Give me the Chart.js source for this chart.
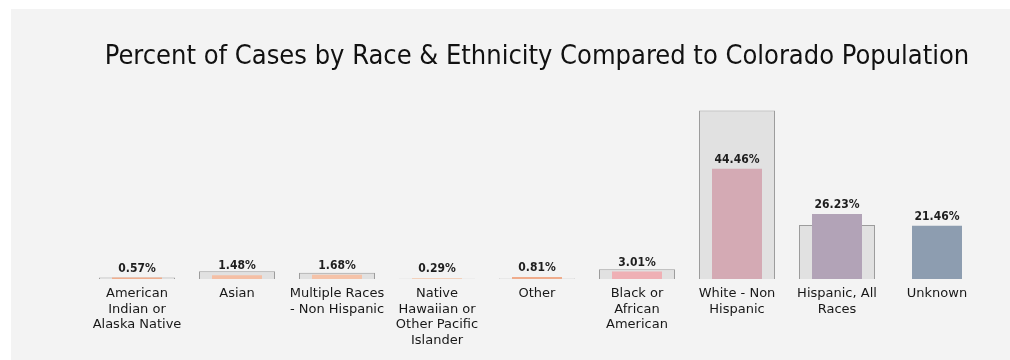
<!DOCTYPE html>
<html>
<head>
<meta charset="utf-8">
<script src="https://cdn.jsdelivr.net/npm/chart.js@4.4.1/dist/chart.umd.min.js"></script>
<style>
  html, body { margin: 0; padding: 0; background: #ffffff; }
  body { width: 1010px; height: 360px; position: relative; overflow: hidden; }
  #panel { position: absolute; left: 11px; top: 9px; width: 999px; height: 351px; background: #f3f3f3; }
  #panel canvas { display: block; }
</style>
</head>
<body>
<div id="panel"><canvas id="chart" width="999" height="351"></canvas></div>
<script>
// Race / ethnicity groups shown along the x axis
const categories = [
  ['American', 'Indian or', 'Alaska Native'],
  ['Asian'],
  ['Multiple Races', '- Non Hispanic'],
  ['Native', 'Hawaiian or', 'Other Pacific', 'Islander'],
  ['Other'],
  ['Black or', 'African', 'American'],
  ['White - Non', 'Hispanic'],
  ['Hispanic, All', 'Races'],
  ['Unknown']
];

// Share of cases (%) for each group
const casePercent = [0.57, 1.48, 1.68, 0.29, 0.81, 3.01, 44.46, 26.23, 21.46];

// Share of the Colorado population (%) for each group
const populationPercent = [0.6, 3.1, 2.5, 0.1, 0.2, 3.9, 67.9, 21.8, 0];

// Fill colour of each case bar
const caseColors = [
  '#efae8e', '#f4bfa5', '#f5c3a9', '#f5c8ad', '#efac8c',
  '#efb0b5', '#d4aab4', '#b2a3b7', '#8d9db0'
];

const FONT = '"DejaVu Sans Condensed", "DejaVu Sans", sans-serif';
const TICK_FONT = '"DejaVu Sans", sans-serif';

// Writes each case percentage just above its bar
const valueLabels = {
  id: 'valueLabels',
  afterDatasetsDraw(chart) {
    const ctx = chart.ctx;
    const meta = chart.getDatasetMeta(0);
    ctx.save();
    ctx.font = 'bold 12px ' + FONT;
    ctx.fillStyle = '#1e1e1e';
    ctx.textAlign = 'center';
    ctx.textBaseline = 'bottom';
    meta.data.forEach((bar, i) => {
      const v = chart.data.datasets[0].data[i];
      ctx.fillText(v.toFixed(2) + '%', bar.x, bar.y - 3);
    });
    ctx.restore();
  }
};

new Chart(document.getElementById('chart'), {
  type: 'bar',
  data: {
    labels: categories,
    datasets: [
      {
        label: 'Cases',
        data: casePercent,
        backgroundColor: caseColors,
        borderWidth: 0,
        grouped: false,
        barPercentage: 0.5,
        categoryPercentage: 1.0,
        order: 0
      },
      {
        label: 'Colorado Population',
        data: populationPercent,
        backgroundColor: '#e1e1e1',
        borderColor: '#9c9c9c',
        borderWidth: 1,
        grouped: false,
        barPercentage: 0.76,
        categoryPercentage: 1.0,
        order: 1
      }
    ]
  },
  options: {
    responsive: false,
    animation: false,
    layout: { padding: { left: 76, right: 23, top: 0, bottom: 0 } },
    plugins: {
      legend: { display: false },
      tooltip: { enabled: false },
      title: {
        display: true,
        text: 'Percent of Cases by Race & Ethnicity Compared to Colorado Population',
        color: '#111111',
        font: { family: FONT, size: 27, weight: 'normal', lineHeight: 1.2 },
        padding: { top: 32, bottom: 32 }
      }
    },
    scales: {
      x: {
        grid: { display: false },
        border: { display: false },
        ticks: {
          color: '#181818',
          font: { family: TICK_FONT, size: 13, lineHeight: 1.2 },
          padding: -1,
          maxRotation: 0,
          autoSkip: false
        },
        afterFit(scale) { scale.height = 81; }
      },
      y: {
        display: false,
        min: 0,
        max: 70
      }
    }
  },
  plugins: [valueLabels]
});
</script>
</body>
</html>
